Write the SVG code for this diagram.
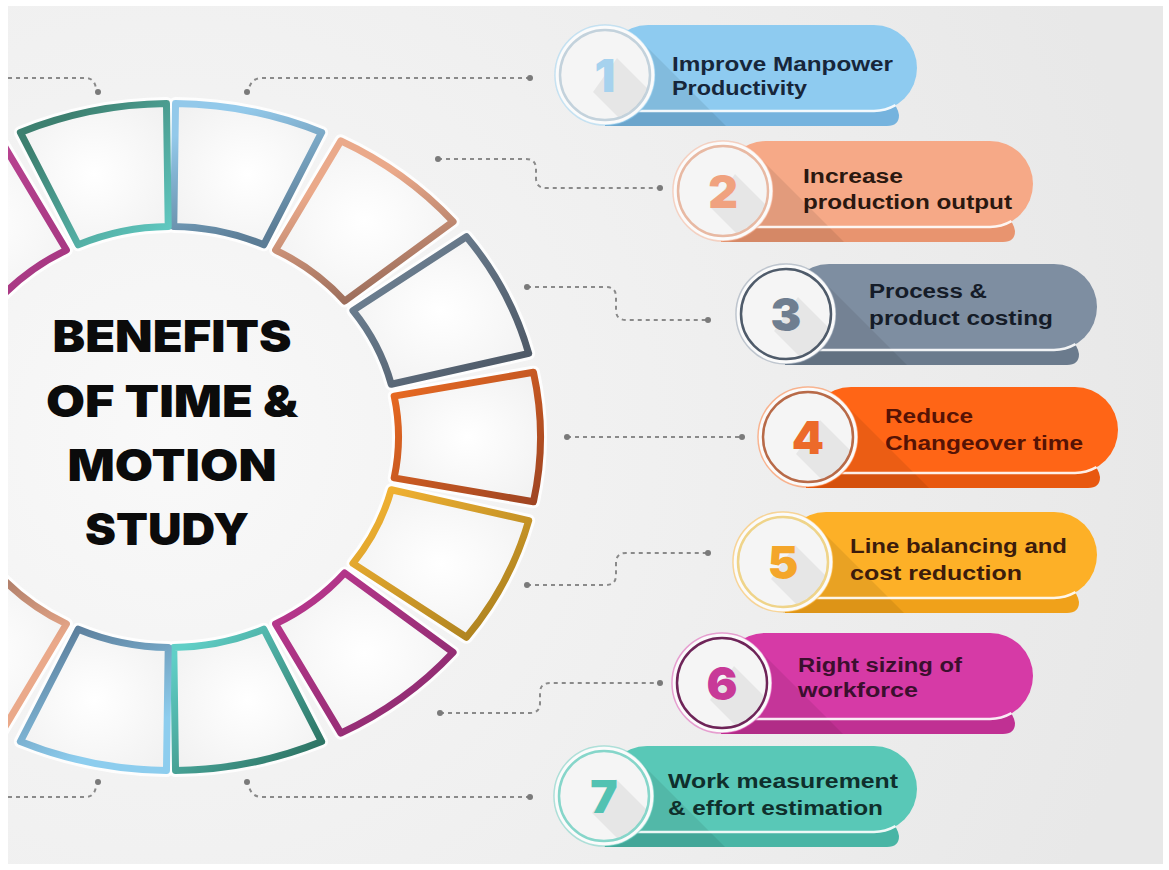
<svg xmlns="http://www.w3.org/2000/svg" width="1169" height="870" viewBox="0 0 1169 870">
  <defs>
    <style>
      .halo{fill:none;stroke:#ffffff;stroke-width:13;stroke-linejoin:round;opacity:.85}
      .seg{fill:url(#segFill);stroke-width:7;stroke-linejoin:round}
      .title{font-family:Inter,'DejaVu Sans',sans-serif;font-weight:900;font-size:44px;fill:#0b0b0b;text-anchor:middle}
      .lbl{font-family:'Liberation Sans',Arial,sans-serif;font-weight:700;font-size:20px}
      .num{font-family:Inter,'DejaVu Sans',sans-serif;font-weight:900;font-size:46px;text-anchor:middle}
      .dash{fill:none;stroke:#8a8a8a;stroke-width:2;stroke-dasharray:4 4}
      .dot{fill:#7a7a7a}
      .pshadow{fill:#000;opacity:.08}
      .nshadow{fill:#000;opacity:.06}
      .sep{fill:none;stroke:#ffffff;stroke-width:2.5;opacity:.9}
      .disc-out{fill:#fbfbfb;stroke-width:1.5;stroke-opacity:.45}
      .disc-in{fill:#f5f5f5;stroke-width:2.5}
    </style>
    <radialGradient id="bg" cx="172" cy="437" r="1000" gradientUnits="userSpaceOnUse">
      <stop offset="0" stop-color="#f9f9f9"/>
      <stop offset="0.35" stop-color="#f2f2f2"/>
      <stop offset="1" stop-color="#e8e8e8"/>
    </radialGradient>
    <radialGradient id="segFill" cx="0.5" cy="0.5" r="0.7">
      <stop offset="0" stop-color="#ffffff"/>
      <stop offset="1" stop-color="#f0f0f0"/>
    </radialGradient>
    <linearGradient id="gOrange" x1="0" y1="0" x2="1" y2="1"><stop offset="0" stop-color="#ec6c22"/><stop offset="1" stop-color="#9e4422"/></linearGradient>
    <linearGradient id="gSlate" x1="0" y1="0" x2="1" y2="1"><stop offset="0" stop-color="#74899c"/><stop offset="1" stop-color="#4a5461"/></linearGradient>
    <linearGradient id="gPeach" x1="0.2" y1="0" x2="0.5" y2="1"><stop offset="0.3" stop-color="#eaa98a"/><stop offset="1" stop-color="#9a6c5a"/></linearGradient>
    <linearGradient id="gBlueTop" x1="0" y1="0" x2="0.4" y2="1"><stop offset="0.2" stop-color="#93c9ea"/><stop offset="1" stop-color="#5c7d96"/></linearGradient>
    <linearGradient id="gGreenTop" x1="0" y1="0" x2="1" y2="1"><stop offset="0.2" stop-color="#3d8070"/><stop offset="1" stop-color="#62cdc6"/></linearGradient>
    <linearGradient id="gPink" x1="0" y1="0" x2="1" y2="1"><stop offset="0" stop-color="#c24a99"/><stop offset="1" stop-color="#a3357f"/></linearGradient>
    <linearGradient id="gYellow" x1="0" y1="0" x2="1" y2="1"><stop offset="0.1" stop-color="#f0b132"/><stop offset="1" stop-color="#a27a1c"/></linearGradient>
    <linearGradient id="gMagenta" x1="0" y1="0" x2="1" y2="1"><stop offset="0" stop-color="#bd3890"/><stop offset="1" stop-color="#872a6b"/></linearGradient>
    <linearGradient id="gTealBot" x1="0" y1="0" x2="1" y2="1"><stop offset="0.1" stop-color="#60cfc7"/><stop offset="0.9" stop-color="#2e7565"/></linearGradient>
    <linearGradient id="gBlueBot" x1="0" y1="0" x2="0.5" y2="1"><stop offset="0.1" stop-color="#5a7b98"/><stop offset="0.9" stop-color="#8dcdee"/></linearGradient>
    <linearGradient id="gPeachBot" x1="0" y1="0" x2="0.4" y2="1"><stop offset="0.1" stop-color="#9a6f5e"/><stop offset="0.7" stop-color="#eaa98a"/></linearGradient>
    <clipPath id="panel"><rect x="8" y="6" width="1155" height="858"/></clipPath>
    <clipPath id="disc"><circle cx="0" cy="0" r="44"/></clipPath>

    <!-- ring segments: ellipse centre (171,437), outer radii 369.5/333.5, inner 227.5/210.5 -->
    <path id="s0" d="M533.46,501.78 A369.5,333.5 0 0 0 533.46,372.22 L394.17,396.11 A227.5,210.5 0 0 1 394.17,477.89 Z"/>
    <path id="s1" d="M528.71,353.44 A369.5,333.5 0 0 0 466.45,236.71 L352.91,310.58 A227.5,210.5 0 0 1 391.24,384.26 Z"/>
    <path id="s2" d="M453.10,221.61 A369.5,333.5 0 0 0 340.87,140.83 L275.59,250.06 A227.5,210.5 0 0 1 344.69,301.05 Z"/>
    <path id="s3" d="M321.65,132.47 A369.5,333.5 0 0 0 175.52,103.52 L173.78,226.51 A227.5,210.5 0 0 1 263.75,244.79 Z"/>
    <path id="s4" d="M166.48,103.52 A369.5,333.5 0 0 0 20.35,132.47 L78.25,244.79 A227.5,210.5 0 0 1 168.22,226.51 Z"/>
    <path id="s5" d="M1.13,140.83 A369.5,333.5 0 0 0 -111.10,221.61 L-2.69,301.05 A227.5,210.5 0 0 1 66.41,250.06 Z"/>
    <path id="s6" d="M466.45,637.29 A369.5,333.5 0 0 0 528.71,520.56 L391.24,489.74 A227.5,210.5 0 0 1 352.91,563.42 Z"/>
    <path id="s7" d="M340.87,733.17 A369.5,333.5 0 0 0 453.10,652.39 L344.69,572.95 A227.5,210.5 0 0 1 275.59,623.94 Z"/>
    <path id="s8" d="M175.52,770.48 A369.5,333.5 0 0 0 321.65,741.53 L263.75,629.21 A227.5,210.5 0 0 1 173.78,647.49 Z"/>
    <path id="s9" d="M20.35,741.53 A369.5,333.5 0 0 0 166.48,770.48 L168.22,647.49 A227.5,210.5 0 0 1 78.25,629.21 Z"/>
    <path id="s10" d="M-111.10,652.39 A369.5,333.5 0 0 0 1.13,733.17 L66.41,623.94 A227.5,210.5 0 0 1 -2.69,572.95 Z"/>

    <!-- lower band under each pill: flat bottom, rounded right end -->
    <path id="band" d="M0,20 H270 A24 24 0 0 1 294,40 Q294,51 282,51 H0 Z"/>
  </defs>

  <!-- page and panel -->
  <rect width="1169" height="870" fill="#ffffff"/>
  <rect x="8" y="6" width="1155" height="858" fill="url(#bg)"/>

  <!-- segmented ring -->
  <g id="ring" clip-path="url(#panel)">
    <g id="ring-glow">
      <use href="#s0" class="halo"/><use href="#s1" class="halo"/><use href="#s2" class="halo"/>
      <use href="#s3" class="halo"/><use href="#s4" class="halo"/><use href="#s5" class="halo"/>
      <use href="#s6" class="halo"/><use href="#s7" class="halo"/><use href="#s8" class="halo"/>
      <use href="#s9" class="halo"/><use href="#s10" class="halo"/>
    </g>
    <g id="seg-orange"><use href="#s0" class="seg" stroke="url(#gOrange)"/></g>
    <g id="seg-slate"><use href="#s1" class="seg" stroke="url(#gSlate)"/></g>
    <g id="seg-peach"><use href="#s2" class="seg" stroke="url(#gPeach)"/></g>
    <g id="seg-blue-top"><use href="#s3" class="seg" stroke="url(#gBlueTop)"/></g>
    <g id="seg-green-top"><use href="#s4" class="seg" stroke="url(#gGreenTop)"/></g>
    <g id="seg-pink"><use href="#s5" class="seg" stroke="url(#gPink)"/></g>
    <g id="seg-yellow"><use href="#s6" class="seg" stroke="url(#gYellow)"/></g>
    <g id="seg-magenta"><use href="#s7" class="seg" stroke="url(#gMagenta)"/></g>
    <g id="seg-teal-bottom"><use href="#s8" class="seg" stroke="url(#gTealBot)"/></g>
    <g id="seg-blue-bottom"><use href="#s9" class="seg" stroke="url(#gBlueBot)"/></g>
    <g id="seg-peach-bottom"><use href="#s10" class="seg" stroke="url(#gPeachBot)"/></g>
  </g>

  <!-- centre title -->
  <g id="title">
    <text class="title" x="172" y="352" textLength="239" lengthAdjust="spacingAndGlyphs">BENEFITS</text>
    <text class="title" x="172" y="417" textLength="252" lengthAdjust="spacingAndGlyphs">OF TIME &amp;</text>
    <text class="title" x="172" y="481" textLength="209" lengthAdjust="spacingAndGlyphs">MOTION</text>
    <text class="title" x="167" y="545" textLength="164" lengthAdjust="spacingAndGlyphs">STUDY</text>
  </g>

  <!-- dotted leader lines -->
  <g id="connectors">
    <path class="dash" d="M530,78 H262 Q252,78 249,88"/>
    <path class="dash" d="M8,78 H86 Q94,78 96,88"/>
    <path class="dash" d="M438,159 H526 Q536,159 536,169 V178 Q536,188 546,188 H660"/>
    <path class="dash" d="M527,287 H606 Q616,287 616,297 V310 Q616,320 626,320 H708"/>
    <path class="dash" d="M567,437 H742"/>
    <path class="dash" d="M527,585 H606 Q616,585 616,575 V563 Q616,553 626,553 H708"/>
    <path class="dash" d="M440,713 H530 Q540,713 540,703 V693 Q540,683 550,683 H660"/>
    <path class="dash" d="M530,797 H262 Q252,797 249,787"/>
    <path class="dash" d="M8,797 H86 Q94,797 96,787"/>
    <circle class="dot" cx="530" cy="78" r="3"/><circle class="dot" cx="247" cy="92" r="3"/>
    <circle class="dot" cx="98" cy="92" r="3"/>
    <circle class="dot" cx="438" cy="159" r="3"/><circle class="dot" cx="660" cy="188" r="3"/>
    <circle class="dot" cx="527" cy="287" r="3"/><circle class="dot" cx="708" cy="320" r="3"/>
    <circle class="dot" cx="567" cy="437" r="3"/><circle class="dot" cx="742" cy="437" r="3"/>
    <circle class="dot" cx="527" cy="585" r="3"/><circle class="dot" cx="708" cy="553" r="3"/>
    <circle class="dot" cx="440" cy="713" r="3"/><circle class="dot" cx="660" cy="683" r="3"/>
    <circle class="dot" cx="530" cy="797" r="3"/><circle class="dot" cx="247" cy="782" r="3"/>
    <circle class="dot" cx="98" cy="782" r="3"/>
  </g>

  <!-- benefit 1 -->
  <g id="benefit-1" transform="translate(605,75)">
    <use href="#band" fill="#75b3de"/>
    <rect x="0" y="-50" width="312" height="86" rx="43" fill="#8ecbf0"/>
    <polygon class="pshadow" points="35,-35 121,51 0,51 0,0"/>
    <path class="sep" d="M0,36 H269 A43 43 0 0 0 290.5,30.2"/>
    <circle class="disc-out" r="50" stroke="#8ecbf0"/>
    <circle class="disc-in" r="45" stroke="#c3d2dc"/>
    <polygon class="nshadow" clip-path="url(#disc)" points="12,-17 72,43 48,77 -12,17"/>
    <text class="num" x="0" y="17" fill="#a6d2ee">1</text>
    <text class="lbl" x="67" y="-4" fill="#17263a" textLength="221" lengthAdjust="spacingAndGlyphs">Improve Manpower</text>
    <text class="lbl" x="67" y="20" fill="#17263a" textLength="135" lengthAdjust="spacingAndGlyphs">Productivity</text>
  </g>

  <!-- benefit 2 -->
  <g id="benefit-2" transform="translate(723,191)">
    <use href="#band" fill="#e8946f" transform="translate(-2,0)"/>
    <rect x="0" y="-50" width="310" height="86" rx="43" fill="#f6a987"/>
    <polygon class="pshadow" points="35,-35 121,51 0,51 0,0"/>
    <path class="sep" d="M0,36 H267 A43 43 0 0 0 288.5,30.2"/>
    <circle class="disc-out" r="50" stroke="#f6a987"/>
    <circle class="disc-in" r="45" stroke="#e8b9a3"/>
    <polygon class="nshadow" clip-path="url(#disc)" points="12,-17 72,43 48,77 -12,17"/>
    <text class="num" x="0" y="17" fill="#f0a27f">2</text>
    <text class="lbl" x="80" y="-8" fill="#2a1810" textLength="100" lengthAdjust="spacingAndGlyphs">Increase</text>
    <text class="lbl" x="80" y="18" fill="#2a1810" textLength="209" lengthAdjust="spacingAndGlyphs">production output</text>
  </g>

  <!-- benefit 3 -->
  <g id="benefit-3" transform="translate(786,314)">
    <use href="#band" fill="#6b7b8d" transform="translate(-1,0)"/>
    <rect x="0" y="-50" width="311" height="86" rx="43" fill="#7e8ea1"/>
    <polygon class="pshadow" points="35,-35 121,51 0,51 0,0"/>
    <path class="sep" d="M0,36 H268 A43 43 0 0 0 289.5,30.2"/>
    <circle class="disc-out" r="50" stroke="#7e8ea1"/>
    <circle class="disc-in" r="45" stroke="#4f5b6a"/>
    <polygon class="nshadow" clip-path="url(#disc)" points="12,-17 72,43 48,77 -12,17"/>
    <text class="num" x="0" y="17" fill="#6f7e90">3</text>
    <text class="lbl" x="83" y="-16" fill="#151c28" textLength="118" lengthAdjust="spacingAndGlyphs">Process &amp;</text>
    <text class="lbl" x="83" y="11" fill="#151c28" textLength="184" lengthAdjust="spacingAndGlyphs">product costing</text>
  </g>

  <!-- benefit 4 -->
  <g id="benefit-4" transform="translate(808,437)">
    <use href="#band" fill="#e8580f" transform="translate(-2,0)"/>
    <rect x="0" y="-50" width="310" height="86" rx="43" fill="#ff6516"/>
    <polygon class="pshadow" points="35,-35 121,51 0,51 0,0"/>
    <path class="sep" d="M0,36 H267 A43 43 0 0 0 288.5,30.2"/>
    <circle class="disc-out" r="50" stroke="#ff6516"/>
    <circle class="disc-in" r="45" stroke="#b86a48"/>
    <polygon class="nshadow" clip-path="url(#disc)" points="12,-17 72,43 48,77 -12,17"/>
    <text class="num" x="0" y="17" fill="#ec6a2a">4</text>
    <text class="lbl" x="77" y="-14" fill="#561305" textLength="88" lengthAdjust="spacingAndGlyphs">Reduce</text>
    <text class="lbl" x="77" y="13" fill="#561305" textLength="198" lengthAdjust="spacingAndGlyphs">Changeover time</text>
  </g>

  <!-- benefit 5 -->
  <g id="benefit-5" transform="translate(783,562)">
    <use href="#band" fill="#f0a11a" transform="translate(2,0)"/>
    <rect x="0" y="-50" width="314" height="86" rx="43" fill="#fdb027"/>
    <polygon class="pshadow" points="35,-35 121,51 0,51 0,0"/>
    <path class="sep" d="M0,36 H271 A43 43 0 0 0 292.5,30.2"/>
    <circle class="disc-out" r="50" stroke="#fdb027"/>
    <circle class="disc-in" r="45" stroke="#efd48a"/>
    <polygon class="nshadow" clip-path="url(#disc)" points="12,-17 72,43 48,77 -12,17"/>
    <text class="num" x="0" y="17" fill="#f4a62a">5</text>
    <text class="lbl" x="67" y="-9" fill="#3c1c0c" textLength="217" lengthAdjust="spacingAndGlyphs">Line balancing and</text>
    <text class="lbl" x="67" y="18" fill="#3c1c0c" textLength="172" lengthAdjust="spacingAndGlyphs">cost reduction</text>
  </g>

  <!-- benefit 6 -->
  <g id="benefit-6" transform="translate(722,683)">
    <use href="#band" fill="#c03093" transform="translate(-1,0)"/>
    <rect x="0" y="-50" width="311" height="86" rx="43" fill="#d63aa6"/>
    <polygon class="pshadow" points="35,-35 121,51 0,51 0,0"/>
    <path class="sep" d="M0,36 H268 A43 43 0 0 0 289.5,30.2"/>
    <circle class="disc-out" r="50" stroke="#d63aa6"/>
    <circle class="disc-in" r="45" stroke="#6e2458"/>
    <polygon class="nshadow" clip-path="url(#disc)" points="12,-17 72,43 48,77 -12,17"/>
    <text class="num" x="0" y="17" fill="#c83a98">6</text>
    <text class="lbl" x="76" y="-11" fill="#3b0f2e" textLength="164" lengthAdjust="spacingAndGlyphs">Right sizing of</text>
    <text class="lbl" x="76" y="14" fill="#3b0f2e" textLength="120" lengthAdjust="spacingAndGlyphs">workforce</text>
  </g>

  <!-- benefit 7 -->
  <g id="benefit-7" transform="translate(604,796)">
    <use href="#band" fill="#49b5a5" transform="translate(1,0)"/>
    <rect x="0" y="-50" width="313" height="86" rx="43" fill="#59c8b7"/>
    <polygon class="pshadow" points="35,-35 121,51 0,51 0,0"/>
    <path class="sep" d="M0,36 H270 A43 43 0 0 0 291.5,30.2"/>
    <circle class="disc-out" r="50" stroke="#59c8b7"/>
    <circle class="disc-in" r="45" stroke="#86d6ca"/>
    <polygon class="nshadow" clip-path="url(#disc)" points="12,-17 72,43 48,77 -12,17"/>
    <text class="num" x="0" y="17" fill="#52c2b2">7</text>
    <text class="lbl" x="64" y="-8" fill="#0f2f2c" textLength="230" lengthAdjust="spacingAndGlyphs">Work measurement</text>
    <text class="lbl" x="64" y="19" fill="#0f2f2c" textLength="215" lengthAdjust="spacingAndGlyphs">&amp; effort estimation</text>
  </g>
</svg>
